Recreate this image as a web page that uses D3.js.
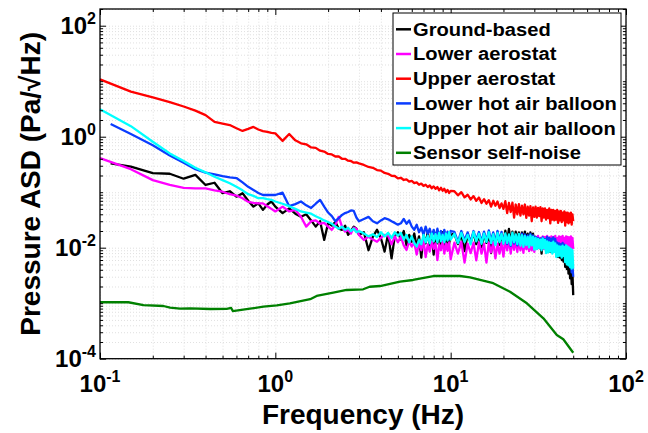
<!DOCTYPE html>
<html><head><meta charset="utf-8">
<script src="https://cdn.jsdelivr.net/npm/d3@7"></script>
<style>body{margin:0;background:#fff} svg{display:block}</style>
</head><body>
<svg id="chart" width="648" height="433"></svg>
<script>
// ---------- DATA ----------
const freq = [
0.1,0.15,0.2,0.25,0.3,0.35,0.4,0.45,0.5,0.55,0.6,0.65,0.7,0.75,0.8,0.85,0.9,0.95,1,
1.1,1.2,1.3,1.4,1.5,1.6,1.7,1.8,1.9,2,2.1,2.2,2.3,2.4,2.5,2.6,2.7,2.8,2.9,3,
3.2,3.4,3.6,3.8,4,4.2,4.4,4.6,4.8,5,5.2,5.4,5.6,5.8,6,6.2,6.4,6.6,6.8,7,7.2,7.4,7.6,7.8,8,8.2,8.4,8.6,8.8,9,9.2,9.4,9.6,9.8,10,
10.5,11,11.5,12,12.5,13,13.5,14,14.5,15,15.5,16,16.5,17,17.5,18,18.5,19,19.5,20,
20.5,21,21.5,22,22.5,23,23.5,24,24.5,25,25.5,26,26.5,27,27.5,28,28.5,29,29.5,30,
30.5,31,31.5,32,32.5,33,33.5,34,34.5,35,35.5,36,36.5,37,37.5,38,38.5,39,39.5,40,
40.5,41,41.5,42,42.5,43,43.5,44,44.5,45,45.5,46,46.5,47,47.5,48,48.5,49,49.5,50];

const groundBased = [
0.332,0.29,0.22,0.215,0.175,0.205,0.135,0.148,0.096,0.104,0.083,0.096,0.07,0.055,0.063,0.048,0.06,0.068,0.055,
0.042,0.051,0.041,0.036,0.04,0.031,0.024,0.03,0.0138,0.028,0.025,0.029,0.022,0.021,0.025,0.017,0.02,0.024,0.022,0.017,
0.019,0.009,0.0158,0.021,0.015,0.0085,0.018,0.0064,0.016,0.019,0.014,0.02,0.011,0.017,0.0128,0.018,0.0105,0.016,0.0066,0.017,0.012,0.019,0.011,0.016,0.0075,0.018,0.012,0.017,0.011,0.019,0.013,0.0095,0.018,0.012,0.017,
.018,.0116,.0174,.0087,.0174,.0123,.0186,.0116,.0167,.0102,
.0181,.0122,.0174,.008,.0177,.0123,.0189,.0113,.0174,.0116,
.0203,.0128,.0218,.012,.0195,.0113,.0195,.0128,.0188,.0105,
.0188,.0123,.0195,.012,.018,.009,.0188,.0126,.018,.012,
.0156,.0096,.015,.0098,.0144,.0078,.0154,.0101,.0144,.0094,
.015,.0096,.0144,.0084,.0146,.0098,.015,.0096,.0132,.008,
.011,.0068,.0106,.0066,.0098,.006,.0094,.0056,.0088,.0045,
.0075,.0041,.0069,.0034,.0059,.0028,.0049,.0022,.0035,.0014];

const lowerAerostat = [
0.41,0.26,0.165,0.135,0.12,0.117,0.117,0.108,0.102,0.092,0.087,0.078,0.067,0.064,0.063,0.063,0.056,0.05,0.045,
0.055,0.045,0.048,0.036,0.024,0.03,0.031,0.027,0.028,0.024,0.021,0.026,0.036,0.024,0.0195,0.021,0.018,0.023,0.022,0.017,
.0138,.0158,.014,.0128,.015,.017,.0165,.0115,.016,.0125,.0158,.011,.0091,.013,.0105,.0125,.0075,.012,.009,.0135,.0068,.0115,.0085,.013,.0095,.012,.006,.0115,.009,.013,.0078,.012,.0088,.0125,.0062,
.0123,.0078,.0127,.0054,.0118,.008,.0123,.0059,.0125,.0078,
.0118,.0054,.0123,.0082,.0127,.0064,.0118,.0078,.0123,.0069,
.014,.009,.0146,.0078,.0134,.0092,.014,.0084,.0143,.009,
.0134,.0081,.0146,.0094,.014,.0087,.0134,.009,.0143,.0084,
.0156,.01,.0163,.0098,.015,.0103,.016,.0094,.0156,.01,
.0163,.0105,.0153,.0095,.016,.01,.0156,.0103,.0163,.0098,
.015,.01,.016,.0094,.0156,.0105,.0163,.01,.015,.0095,
.016,.01,.0156,.0103,.0153,.0098,.016,.01,.015,.0095];

const upperAerostat = [
10.8,6.5,5.1,4.2,3.5,2.95,2.45,1.85,1.72,1.62,1.42,1.27,1.38,1.5,1.35,1.26,1.22,1.17,1.15,
0.84,1.12,0.86,0.76,0.73,0.64,0.63,0.56,0.54,0.49,0.48,0.44,0.44,0.40,0.40,0.37,0.365,0.34,0.345,0.33,
.31,.285,.275,.25,.245,.222,.215,.198,.196,.178,.182,.166,.17,.155,.16,.146,.15,.136,.143,.13,.136,.124,.132,.118,.127,.115,.124,.108,.12,.106,.115,.1,.11,.097,.106,
.104,.088,.1,.081,.09,.074,.085,.07,.08,.064,
.075,.062,.072,.055,.07,.057,.068,.052,.063,.05,
.069,.042,.064,.044,.065,.035,.060,.040,.061,.038,
.057,.040,.060,.0345,.055,.038,.056,.030,.053,.036,
.055,.035,.052,.037,.054,.030,.051,.035,.051,.032,
.048,.034,.051,.0275,.048,.032,.048,.031,.046,.032,
.048,.028,.045,.031,.046,.029,.043,.031,.045,.025,
.043,.029,.043,.0275,.041,.029,.043,.026,.040,.030];

const lowerHotAirBalloon = [
1.69,1.12,0.70,0.46,0.34,0.26,0.225,0.21,0.195,0.185,0.18,0.15,0.125,0.11,0.097,0.089,0.089,0.089,0.089,
0.098,0.056,0.061,0.068,0.058,0.052,0.062,0.0725,0.055,0.043,0.037,0.03,0.034,0.039,0.042,0.044,0.047,0.046,0.035,0.030,
.033,.036,.030,.0275,.031,.034,.0325,.030,.028,.026,.0275,.033,.027,.031,.024,.021,.026,.019,.023,.017,.024,.018,.022,.016,.021,.015,.022,.016,.020,.014,.021,.015,.0195,.014,.020,
.0192,.0128,.02,.0136,.0189,.0125,.02,.0138,.0192,.0128,
.0195,.0131,.0205,.0136,.0189,.012,.02,.0134,.0192,.0128,
.0173,.0116,.0166,.0108,.0177,.0119,.0166,.011,.0168,.0116,
.0179,.011,.0173,.0119,.0166,.0108,.0177,.0117,.0166,.011,
.0156,.0098,.015,.0102,.0146,.0094,.0154,.0101,.0144,.0096,
.0156,.0098,.015,.0102,.0146,.0094,.0154,.0101,.0144,.0096,
.0124,.0078,.0119,.0081,.0116,.0074,.0122,.008,.0114,.0056,
.0091,.0057,.0088,.006,.0084,.0044,.0069,.0036,.0048,.003];

const upperHotAirBalloon = [
3.12,1.55,0.81,0.50,0.365,0.275,0.228,0.19,0.165,0.145,0.125,0.108,0.092,0.086,0.078,0.078,0.075,0.073,0.068,
0.062,0.056,0.05,0.045,0.043,0.041,0.037,0.034,0.031,0.029,0.027,0.024,0.022,0.024,0.021,0.023,0.020,0.022,0.019,0.020,
.018,.016,.0175,.0155,.019,.016,.0185,.015,.019,.0165,.0185,.014,.017,.0125,.016,.012,.0105,.014,.0115,.017,.0125,.0165,.012,.018,.013,.0175,.0125,.0185,.013,.017,.0125,.018,.0135,.019,.014,
.0178,.0121,.0185,.0126,.017,.0115,.0192,.013,.0178,.0118,
.018,.0127,.019,.0121,.0175,.0111,.0185,.0126,.0178,.0118,
.0181,.0122,.0174,.0113,.0186,.0125,.0174,.0116,.0177,.0109,
.0169,.0104,.0163,.0112,.0156,.0101,.0166,.011,.0156,.0092,
.015,.0094,.0144,.0098,.014,.009,.0147,.0097,.0138,.008,
.013,.0082,.0125,.0085,.0122,.0078,.0128,.0084,.012,.0068,
.011,.007,.0106,.0072,.0104,.0066,.0109,.0071,.0102,.0055,
.011,.005,.0105,.0048,.010,.0045,.0095,.0042,.009,.0042];

// first frequency of each measured series (two start slightly later)
const seriesStart = [0.115, 0.1, 0.1, 0.115, 0.1];

const noiseFreq = [0.1,0.145,0.177,0.23,0.251,0.286,0.325,0.426,0.528,0.56,0.572,0.717,0.855,1.02,1.21,1.58,1.72,2.14,2.55,3.17,3.45,3.96,5.14,6.1,7.97,11.3,12.9,17.5,21.8,27.2,33.8,40.3,43.9,50];
const noiseVal = [0.00104,0.00104,0.000927,0.00089,0.00083,0.000796,0.000809,0.000786,0.00079,0.00082,0.000723,0.000796,0.000865,0.000917,0.000996,0.00118,0.00135,0.00155,0.00173,0.00178,0.00198,0.00204,0.00244,0.00262,0.00309,0.00309,0.00293,0.00229,0.00161,0.000996,0.000535,0.000267,0.000224,0.000128];

const seriesNames = ["Ground-based","Lower aerostat","Upper aerostat","Lower hot air balloon","Upper hot air balloon","Sensor self-noise"];
const seriesColors = ["#000000","#ff00ff","#ff0000","#0a3cff","#00ffff","#008000"];

const xTickValues = [0.1, 1, 10, 100];
const xTickExp = ["-1","0","1","2"];
const yTickValues = [1e-4, 1e-2, 1, 100];
const yTickExp = ["-4","-2","0","2"];
const xTitle = "Frequency (Hz)";
const yTitle = "Pressure ASD (Pa/\u221AHz)";

// ---------- LAYOUT ----------
const L = 100, R = 626, T = 9, B = 358.7;
const FONT = "'Liberation Sans', Arial, Helvetica, sans-serif";
const svg = d3.select("#chart");
const x = d3.scaleLog().domain([0.1, 100]).range([L, R]);
const y = d3.scaleLog().domain([1e-4, 200]).range([B, T]);

// minor positions (1..9 x 10^k)
const xAll = [], yAll = [];
for (let k = -1; k <= 1; k++) for (let m = 1; m <= 9; m++) xAll.push(+(m * Math.pow(10, k)).toPrecision(3));
xAll.push(100);
for (let k = -4; k <= 2; k++) for (let m = 1; m <= 9; m++) { const v = +(m * Math.pow(10, k)).toPrecision(3); if (v <= 200) yAll.push(v); }
const xMinor = xAll.filter(v => !xTickValues.includes(v));
const yMinor = yAll.filter(v => !yTickValues.includes(v));

// grid
const gGrid = svg.append("g");
gGrid.append("g").attr("transform", `translate(0,${B})`)
  .call(d3.axisBottom(x).tickValues(xAll).tickSize(-(B - T)).tickFormat(""))
  .call(g => g.select(".domain").remove())
  .selectAll("line").attr("stroke", "#d2d2d2").attr("stroke-width", 0.7).attr("stroke-dasharray", "1,2");
gGrid.append("g").attr("transform", `translate(${L},0)`)
  .call(d3.axisLeft(y).tickValues(yAll).tickSize(-(R - L)).tickFormat(""))
  .call(g => g.select(".domain").remove())
  .selectAll("line").attr("stroke", "#d2d2d2").attr("stroke-width", 0.7).attr("stroke-dasharray", "1,2");

// series lines
const measured = [groundBased, lowerAerostat, upperAerostat, lowerHotAirBalloon, upperHotAirBalloon];
const line = d3.line().defined(d => d[1] != null && isFinite(d[1]) && d[1] > 0)
  .x(d => x(d[0])).y(d => y(d[1]));
const gLines = svg.append("g");
measured.forEach((vals, i) => {
  const pts = freq.map((f, j) => [j === 0 ? seriesStart[i] : f, vals[j]]);
  gLines.append("path").datum(pts).attr("d", line)
    .attr("fill", "none").attr("stroke", seriesColors[i]).attr("stroke-width", 2.3)
    .attr("stroke-linejoin", "round");
});
gLines.append("path").datum(noiseFreq.map((f, j) => [f, noiseVal[j]])).attr("d", line)
  .attr("fill", "none").attr("stroke", seriesColors[5]).attr("stroke-width", 2.3)
  .attr("stroke-linejoin", "round");

// ticks on all four sides (inside)
function ticks(axisGen, tr, vals, len) {
  svg.append("g").attr("transform", tr)
    .call(axisGen.tickValues(vals).tickSize(-len).tickFormat(""))
    .call(g => g.select(".domain").remove())
    .selectAll("line").attr("stroke", "#000").attr("stroke-width", 1);
}
ticks(d3.axisBottom(x), `translate(0,${B})`, xTickValues, 6);
ticks(d3.axisBottom(x), `translate(0,${B})`, xMinor, 3);
ticks(d3.axisTop(x), `translate(0,${T})`, xTickValues, 6);
ticks(d3.axisTop(x), `translate(0,${T})`, xMinor, 3);
ticks(d3.axisLeft(y), `translate(${L},0)`, yTickValues, 6);
ticks(d3.axisLeft(y), `translate(${L},0)`, yMinor, 3);
ticks(d3.axisRight(y), `translate(${R},0)`, yTickValues, 6);
ticks(d3.axisRight(y), `translate(${R},0)`, yMinor, 3);

// box
svg.append("rect").attr("x", L).attr("y", T).attr("width", R - L).attr("height", B - T)
  .attr("fill", "none").attr("stroke", "#000").attr("stroke-width", 1.3);

// tick labels
xTickValues.forEach((v, i) => {
  const t = svg.append("text").attr("x", x(v)).attr("y", 392).attr("text-anchor", "middle")
    .attr("font-family", FONT).attr("font-weight", "bold").attr("font-size", 24).attr("fill", "#000");
  t.append("tspan").text("10");
  t.append("tspan").attr("dy", -10).attr("font-size", 16).text(xTickExp[i]);
});
yTickValues.forEach((v, i) => {
  const t = svg.append("text").attr("x", 96).attr("y", y(v) + 8).attr("text-anchor", "end")
    .attr("font-family", FONT).attr("font-weight", "bold").attr("font-size", 24).attr("fill", "#000");
  t.append("tspan").text("10");
  t.append("tspan").attr("dy", -10).attr("font-size", 16).text(yTickExp[i]);
});

// axis titles
svg.append("text").attr("x", (L + R) / 2).attr("y", 424).attr("text-anchor", "middle")
  .attr("font-family", FONT).attr("font-weight", "bold").attr("font-size", 28).text(xTitle);
svg.append("text").attr("transform", `translate(40,${(T + B) / 2}) rotate(-90)`).attr("text-anchor", "middle")
  .attr("font-family", FONT).attr("font-weight", "bold").attr("font-size", 28).text(yTitle);

// legend
const lg = svg.append("g");
lg.append("rect").attr("x", 393).attr("y", 13).attr("width", 228).attr("height", 152)
  .attr("fill", "#fff").attr("stroke", "#000").attr("stroke-width", 1);
seriesNames.forEach((name, i) => {
  const cy = 29.3 + i * 24.7;
  lg.append("line").attr("x1", 396).attr("x2", 411).attr("y1", cy).attr("y2", cy)
    .attr("stroke", seriesColors[i]).attr("stroke-width", 2.5);
  lg.append("text").attr("x", 413).attr("y", cy + 6.5)
    .attr("font-family", FONT).attr("font-weight", "bold").attr("font-size", 18.5)
    .attr("transform", `translate(413,0) scale(1.09,1) translate(-413,0)`)
    .text(name);
});
</script>
</body></html>
